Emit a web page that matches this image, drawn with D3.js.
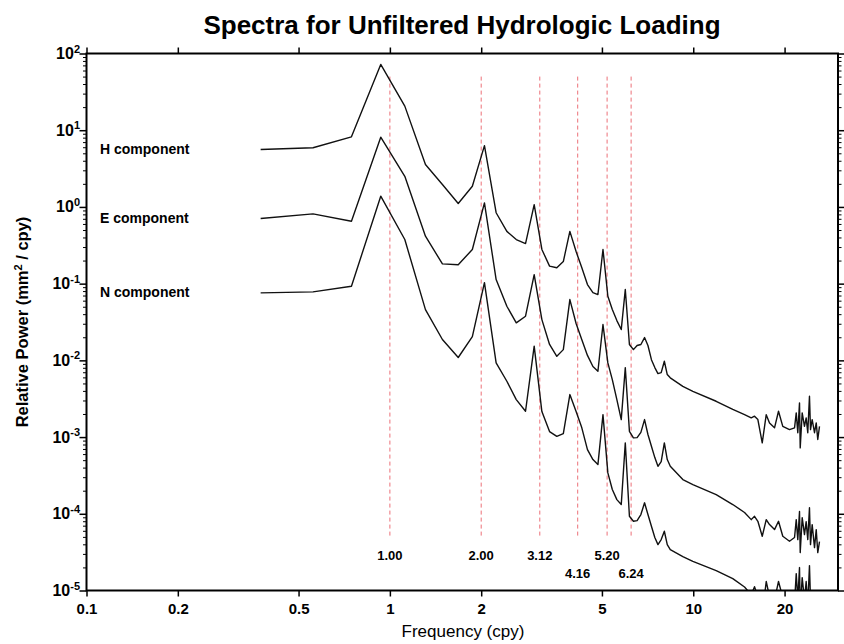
<!DOCTYPE html>
<html><head><meta charset="utf-8">
<script src="https://cdn.jsdelivr.net/npm/d3@7/dist/d3.min.js"></script>
<style>
html,body{margin:0;padding:0;background:#fff;}
svg{display:block;font-family:"Liberation Sans",Arial,Helvetica,sans-serif;}
</style></head>
<body><svg id="chart" width="844" height="644"></svg>
<script>
// ---------------- data ----------------
const freq = [0.375, 0.558, 0.747, 0.933, 1.12, 1.31, 1.49, 1.68, 1.87, 2.05, 2.24, 2.43, 2.61, 2.80, 2.99, 3.17, 3.36, 3.55, 3.73, 3.92, 4.11, 4.29, 4.48, 4.67, 4.85, 5.04, 5.23, 5.41, 5.60, 5.79, 5.97, 6.16, 6.35, 6.53, 6.72, 6.91, 7.09, 7.28, 7.47, 7.65, 7.84, 8.03, 8.21, 8.40,
  9.24, 9.97, 11.9, 13.5, 14.76, 15.53, 15.92, 16.33, 16.88, 17.40, 17.84, 18.53, 19.1, 19.73, 20.76, 21.57, 21.85, 22.11, 22.4, 22.52, 22.86, 23.26, 23.56, 23.85, 24.16, 24.35, 24.66, 25.1, 25.43, 25.73, 26.07];

const hPower = [5.6, 5.9, 8.2, 72, 20.6, 3.57, 1.96, 1.11, 1.86, 6.3, 0.84, 0.48, 0.376, 0.333, 1.07, 0.279, 0.169, 0.161, 0.194, 0.48, 0.262, 0.162, 0.0973, 0.0766, 0.0721, 0.279, 0.0685, 0.0459, 0.033, 0.0252, 0.0838, 0.0161, 0.0138, 0.0156, 0.0161, 0.0198, 0.0156, 0.0102, 0.00805, 0.00673, 0.00693, 0.00973, 0.00653, 0.00592,
  0.00459, 0.00395, 0.00293, 0.00229, 0.00196, 0.00178, 0.00187, 0.00169, 0.00084, 0.00196, 0.00153, 0.00132, 0.00217, 0.00138, 0.00125, 0.00132, 0.00207, 0.00114, 0.00279, 0.000723, 0.00207, 0.00138, 0.00178, 0.00114, 0.0034, 0.00125, 0.00169, 0.00114, 0.00153, 0.00093, 0.00138];

const ePower = [0.706, 0.813, 0.651, 8.1, 2.51, 0.415, 0.181, 0.176, 0.279, 1.13, 0.113, 0.0507, 0.0308, 0.0376, 0.131, 0.034, 0.0161, 0.0113, 0.0138, 0.062, 0.0302, 0.0187, 0.0116, 0.0083, 0.00721, 0.0293, 0.00927, 0.00562, 0.00308, 0.00169, 0.00805, 0.00119, 0.000976, 0.000984, 0.00115, 0.00169, 0.00108, 0.000759, 0.00054, 0.000416, 0.00048, 0.00084, 0.000509, 0.000416,
  0.000279, 0.00024, 0.000178, 0.000132, 0.000104, 8.39e-5, 9.27e-5, 7.98e-5, 5.09e-5, 8.39e-5, 7.23e-5, 6.22e-5, 7.98e-5, 5.09e-5, 4.38e-5, 4.9e-5, 8.39e-5, 4.61e-5, 1.07e-4, 3.12e-5, 8.9e-5, 5.36e-5, 7.9e-5, 4.61e-5, 1.2e-4, 3.96e-5, 7.23e-5, 3.62e-5, 6.22e-5, 3.12e-5, 4.35e-5];

const nPower = [0.0759, 0.0782, 0.0925, 1.38, 0.376, 0.0459, 0.0187, 0.0109, 0.0204, 0.103, 0.00927, 0.00534, 0.00308, 0.00217, 0.0153, 0.00215, 0.00118, 0.00102, 0.00111, 0.00358, 0.00215, 0.00133, 0.000687, 0.000509, 0.000438, 0.00196, 0.000341, 0.000207, 0.000153, 0.000132, 0.00084, 9.27e-5, 7.98e-5, 8.15e-5, 9.77e-5, 1.39e-4, 9.77e-5, 6.87e-5, 4.9e-5, 3.96e-5, 4.61e-5, 5.92e-5, 3.96e-5, 3.41e-5,
  2.77e-5, 2.4e-5, 1.82e-5, 1.43e-5, 1.11e-5, 8.8e-6, 1.12e-5, 8.3e-6, 4.85e-6, 1.31e-5, 8.3e-6, 7.6e-6, 1.31e-5, 8.1e-6, 6.7e-6, 7e-6, 1.66e-5, 7.6e-6, 1.99e-5, 5.6e-6, 1.47e-5, 7.6e-6, 1.31e-5, 6.5e-6, 2.11e-5, 7.6e-6, 9e-6, 5.6e-6, 7.6e-6, 4.85e-6, 6.5e-6];

const seriesNames = ["H component", "E component", "N component"];
const harmonics = [1.00, 2.00, 3.12, 4.16, 5.20, 6.24];
const harmonicLabels = ["1.00", "2.00", "3.12", "4.16", "5.20", "6.24"];
const harmonicRow = [0, 0, 0, 1, 0, 1];
const harmonicSpan = [50, 5e-5];
const xTicks = [0.1, 0.2, 0.5, 1, 2, 5, 10, 20];
const xTickLabels = ["0.1", "0.2", "0.5", "1", "2", "5", "10", "20"];
const yExponents = [2, 1, 0, -1, -2, -3, -4, -5];
const title = "Spectra for Unfiltered Hydrologic Loading";
const xTitle = "Frequency (cpy)";

// ---------------- layout ----------------
const L = 86.5, R = 838, T = 53.5, B = 590.5;
const svg = d3.select("#chart");
const x = d3.scaleLog().domain([0.1, 30]).range([L, R]);
const y = d3.scaleLog().domain([1e-5, 100]).range([B, T]);

svg.append("defs").append("clipPath").attr("id", "clip")
  .append("rect").attr("x", L).attr("y", T).attr("width", R - L).attr("height", B - T);

// harmonic dashed lines
const hg = svg.append("g");
hg.selectAll("line").data(harmonics).join("line")
  .attr("x1", d => x(d)).attr("x2", d => x(d))
  .attr("y1", y(harmonicSpan[0])).attr("y2", y(harmonicSpan[1]))
  .attr("stroke", "#ec7078").attr("stroke-width", 1).attr("stroke-dasharray", "4,3");
hg.selectAll("text").data(harmonics).join("text")
  .attr("x", d => x(d)).attr("y", (d, i) => B - 31 + harmonicRow[i] * 18)
  .attr("text-anchor", "middle").attr("font-size", 13).attr("font-weight", "bold")
  .text((d, i) => harmonicLabels[i]);

// curves
const series = [hPower, ePower, nPower];
const line = d3.line().x(d => x(d[0])).y(d => y(d[1]));
svg.append("g").attr("clip-path", "url(#clip)")
  .selectAll("path").data(series).join("path")
  .attr("d", s => line(freq.map((f, i) => [f, s[i]])))
  .attr("fill", "none").attr("stroke", "#111").attr("stroke-width", 1.4)
  .attr("stroke-linejoin", "round");

// series labels
svg.append("g").selectAll("text").data(series).join("text")
  .attr("x", 100).attr("y", s => y(s[0]) + 4.5)
  .attr("font-size", 14).attr("font-weight", "bold")
  .text((s, i) => seriesNames[i]);

// axes: ticks
const minor = [];
for (let e = -5; e < 2; e++) for (let k = 2; k <= 9; k++) minor.push(k * Math.pow(10, e));
const majorY = yExponents.map(e => Math.pow(10, e));

function styleAxis(g) {
  g.select(".domain").remove();
  g.selectAll(".tick line").attr("stroke", "#000").attr("stroke-width", 1.5);
}
svg.append("g").attr("transform", `translate(0,${B})`)
  .call(d3.axisBottom(x).tickValues(xTicks).tickSize(6).tickFormat((d, i) => xTickLabels[i]))
  .call(styleAxis)
  .call(g => g.selectAll(".tick text").attr("font-size", 15).attr("font-weight", "bold")
    .attr("font-family", "Liberation Sans, Arial, sans-serif").attr("fill", "#000").attr("dy", "0.95em"));
svg.append("g").attr("transform", `translate(0,${T})`)
  .call(d3.axisTop(x).tickValues(xTicks).tickSize(6).tickFormat(""))
  .call(styleAxis);
svg.append("g").attr("transform", `translate(${L},0)`)
  .call(d3.axisLeft(y).tickValues(majorY).tickSize(7).tickFormat(""))
  .call(styleAxis);
svg.append("g").attr("transform", `translate(${L},0)`)
  .call(d3.axisLeft(y).tickValues(minor).tickSize(3.5).tickFormat(""))
  .call(styleAxis).call(g => g.selectAll(".tick line").attr("stroke-width", 1));
svg.append("g").attr("transform", `translate(${R},0)`)
  .call(d3.axisRight(y).tickValues(majorY).tickSize(7).tickFormat(""))
  .call(styleAxis);
svg.append("g").attr("transform", `translate(${R},0)`)
  .call(d3.axisRight(y).tickValues(minor).tickSize(3.5).tickFormat(""))
  .call(styleAxis).call(g => g.selectAll(".tick line").attr("stroke-width", 1));

// y tick labels
const yl = svg.append("g").selectAll("text").data(yExponents).join("text")
  .attr("x", 80).attr("y", e => y(Math.pow(10, e)) + 5.5)
  .attr("text-anchor", "end").attr("font-weight", "bold").attr("font-size", 16);
yl.append("tspan").text("10");
yl.append("tspan").attr("dy", -6.5).attr("font-size", 11).text(e => String(e));

// frame
svg.append("rect").attr("x", L).attr("y", T).attr("width", R - L).attr("height", B - T)
  .attr("fill", "none").attr("stroke", "#000").attr("stroke-width", 2);

// titles
svg.append("text").attr("x", 462).attr("y", 34).attr("text-anchor", "middle")
  .attr("font-size", 26).attr("font-weight", "bold").text(title);
svg.append("text").attr("x", 463).attr("y", 637).attr("text-anchor", "middle")
  .attr("font-size", 17).text(xTitle);
const yt = svg.append("text").attr("transform", "translate(28,322) rotate(-90)")
  .attr("text-anchor", "middle").attr("font-size", 16.5).attr("font-weight", "bold");
yt.append("tspan").text("Relative Power (mm");
yt.append("tspan").attr("dy", -6).attr("font-size", 11).text("2");
yt.append("tspan").attr("dy", 6).text(" / cpy)");
</script></body></html>
